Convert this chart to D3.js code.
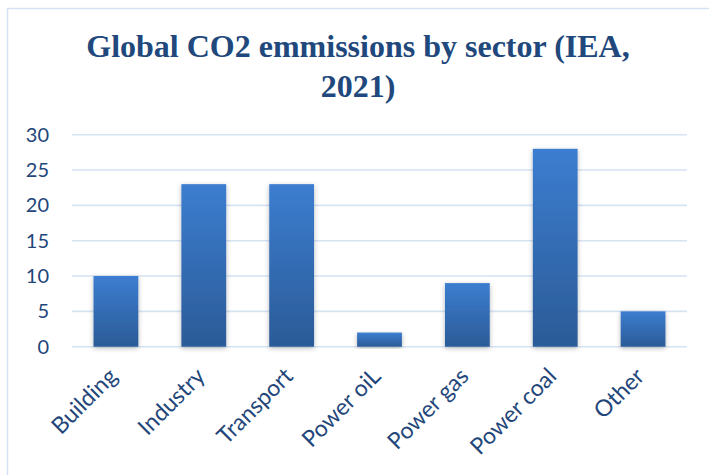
<!DOCTYPE html>
<html>
<head>
<meta charset="utf-8">
<script src="https://cdn.jsdelivr.net/npm/d3@7"></script>
<style>
  html, body { margin: 0; padding: 0; background: #fff; }
  svg { display: block; }
  .lbl { font-family: Lato, "Open Sans", sans-serif; }
</style>
</head>
<body>
<svg id="chart" width="709" height="475"></svg>
<script>
const categories = ["Building", "Industry", "Transport", "Power oiL", "Power gas", "Power coal", "Other"];
const values = [10, 23, 23, 2, 9, 28, 5];
const yTicks = [0, 5, 10, 15, 20, 25, 30];
const titleLines = ["Global CO2 emmissions by sector (IEA,", "2021)"];

const svg = d3.select("#chart");

svg.append("rect")
  .attr("x", 7.5).attr("y", 8.5)
  .attr("width", 710).attr("height", 480)
  .attr("fill", "#fff")
  .attr("stroke", "#d5e2f3").attr("stroke-width", 1.5);

const defs = svg.append("defs");
const grad = defs.append("linearGradient")
  .attr("id", "barGrad").attr("x1", 0).attr("y1", 0).attr("x2", 0).attr("y2", 1);
grad.append("stop").attr("offset", "0%").attr("stop-color", "#3c7dd0");
grad.append("stop").attr("offset", "100%").attr("stop-color", "#2b5b97");

const shadow = defs.append("filter").attr("id", "shadow")
  .attr("x", "-30%").attr("y", "-10%").attr("width", "160%").attr("height", "125%");
shadow.append("feDropShadow")
  .attr("dx", 0).attr("dy", 1.5).attr("stdDeviation", 2.5)
  .attr("flood-color", "#000").attr("flood-opacity", 0.28);

const title = svg.append("text")
  .attr("text-anchor", "middle")
  .style("font-family", "'Liberation Serif', 'Times New Roman', serif")
  .style("font-weight", "700")
  .style("font-size", "32px")
  .attr("fill", "#21487c");
titleLines.forEach((t, i) => {
  title.append("tspan").attr("x", 358).attr("y", 57 + i * 40).text(t);
});

const x = d3.scaleBand().domain(categories).range([72, 687]).paddingInner(0.49).paddingOuter(0.245);
const y = d3.scaleLinear().domain([0, 30]).range([346.7, 134.7]);

svg.append("g")
  .selectAll("line")
  .data(yTicks)
  .join("line")
  .attr("x1", 72).attr("x2", 687)
  .attr("y1", d => y(d)).attr("y2", d => y(d))
  .attr("stroke", "#d6e3f3").attr("stroke-width", 1.6);

const yAxis = d3.axisLeft(y).tickValues(yTicks).tickSize(0).tickPadding(0);
const yg = svg.append("g").attr("transform", "translate(49,0)").call(yAxis);
yg.select(".domain").remove();
yg.selectAll("text")
  .attr("class", "lbl")
  .attr("font-size", 20)
  .attr("fill", "#23467a");

svg.append("g")
  .selectAll("rect")
  .data(values)
  .join("rect")
  .attr("x", (d, i) => x(categories[i]))
  .attr("y", d => y(d))
  .attr("width", x.bandwidth())
  .attr("height", d => y(0) - y(d))
  .attr("fill", "url(#barGrad)")
  .attr("filter", "url(#shadow)");

const xAxis = d3.axisBottom(x).tickSize(0).tickPadding(0);
const xg = svg.append("g").call(xAxis);
xg.select(".domain").remove();
xg.selectAll(".tick").attr("transform", d => `translate(${x(d) + x.bandwidth() / 2 - 3},372)`);
xg.selectAll("text")
  .attr("class", "lbl")
  .attr("font-size", 23)
  .attr("fill", "#23467a")
  .attr("text-anchor", "end")
  .attr("x", 0).attr("y", 0).attr("dy", "0.35em")
  .attr("transform", "rotate(-45)");
</script>
</body>
</html>
